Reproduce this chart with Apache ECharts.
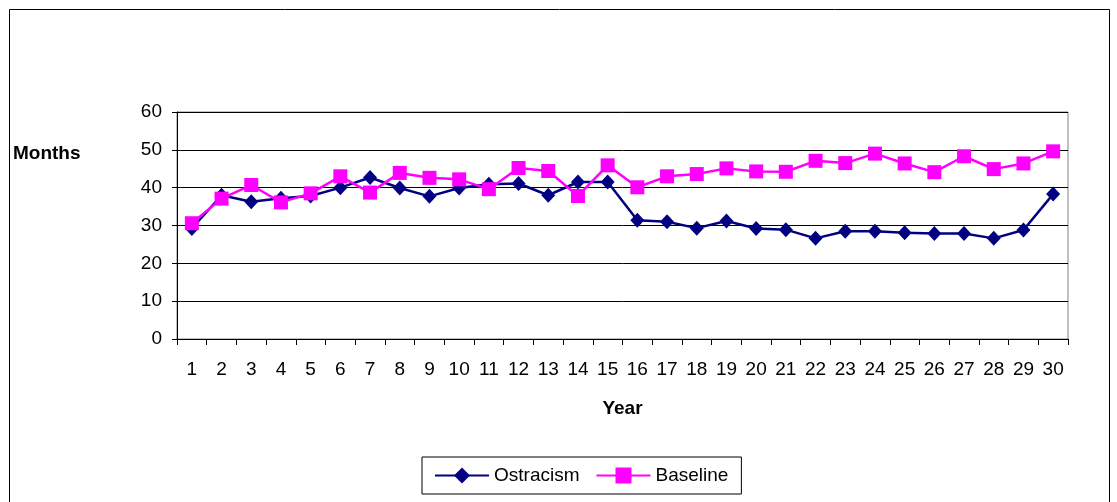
<!DOCTYPE html>
<html><head><meta charset="utf-8">
<script src="https://cdn.jsdelivr.net/npm/echarts@6/dist/echarts.min.js"></script>
<style>html,body{margin:0;padding:0;background:#fff}#c{width:1117px;height:502px}</style>
</head><body><div id="c"></div>
<script>
const years = ['1','2','3','4','5','6','7','8','9','10','11','12','13','14','15','16','17','18','19','20','21','22','23','24','25','26','27','28','29','30'];
const ostracism = [29.2,38.0,36.3,37.2,37.8,40.0,42.7,39.9,37.7,39.9,40.9,41.1,38.0,41.5,41.5,31.4,31.0,29.3,31.2,29.2,28.9,26.6,28.5,28.5,28.1,27.9,27.9,26.6,28.8,38.3];
const baseline = [30.6,37.1,40.7,36.1,38.5,43.0,38.7,43.9,42.6,42.2,39.6,45.2,44.4,37.8,45.9,40.1,43.0,43.6,45.1,44.3,44.2,47.1,46.5,49.0,46.4,44.1,48.3,44.9,46.4,49.6];
const yTicks = {min:0, max:60, interval:10};
const font = '"Liberation Sans", Arial, sans-serif';
const chart = echarts.init(document.getElementById('c'), null, {renderer:'canvas'});
chart.setOption({
  animation:false,
  backgroundColor:'#fff',
  textStyle:{fontFamily:font},
  graphic:[
    {type:'rect', shape:{x:9.5,y:9.5,width:1100,height:510}, style:{fill:'none',stroke:'#000',lineWidth:1}, silent:true, z:-1},
    {type:'text', left:13, top:144, style:{text:'Months', font:'bold 19px '+font, fill:'#000'}}
  ],
  grid:{left:177, top:112, right:49, bottom:163, show:true, borderColor:'#808080', borderWidth:1},
  legend:{
    data:['Ostracism','Baseline'], left:422, top:457,
    borderColor:'#000', borderWidth:1, borderRadius:0, padding:[9,13,9,12],
    itemWidth:54, itemHeight:20, itemGap:16,
    textStyle:{fontSize:19, color:'#000', fontFamily:font}
  },
  xAxis:{
    type:'category', data:years, boundaryGap:true,
    name:'Year', nameLocation:'middle', nameGap:60,
    nameTextStyle:{fontWeight:'bold', fontSize:19, color:'#000', fontFamily:font},
    axisLine:{lineStyle:{color:'#000', width:1}},
    axisTick:{show:true, interval:0, length:6, lineStyle:{color:'#000'}},
    axisLabel:{interval:0, fontSize:19, color:'#000', margin:21, fontFamily:font},
    splitLine:{show:false}
  },
  yAxis:{
    type:'value', min:yTicks.min, max:yTicks.max, interval:yTicks.interval,
    axisLine:{show:true, lineStyle:{color:'#000', width:1}},
    axisTick:{show:true, length:5, lineStyle:{color:'#000'}},
    axisLabel:{fontSize:19, color:'#000', margin:15, fontFamily:font},
    splitLine:{show:true, lineStyle:{color:'#000', width:1}}
  },
  series:[
    {name:'Ostracism', type:'line', data:ostracism, symbol:'diamond', symbolSize:[14,15],
     itemStyle:{color:'#000080'}, lineStyle:{color:'#000080', width:2.5}, z:2},
    {name:'Baseline', type:'line', data:baseline, symbol:'rect', symbolSize:14,
     itemStyle:{color:'#FF00FF'}, lineStyle:{color:'#FF00FF', width:2.5}, z:3}
  ]
});
</script></body></html>
